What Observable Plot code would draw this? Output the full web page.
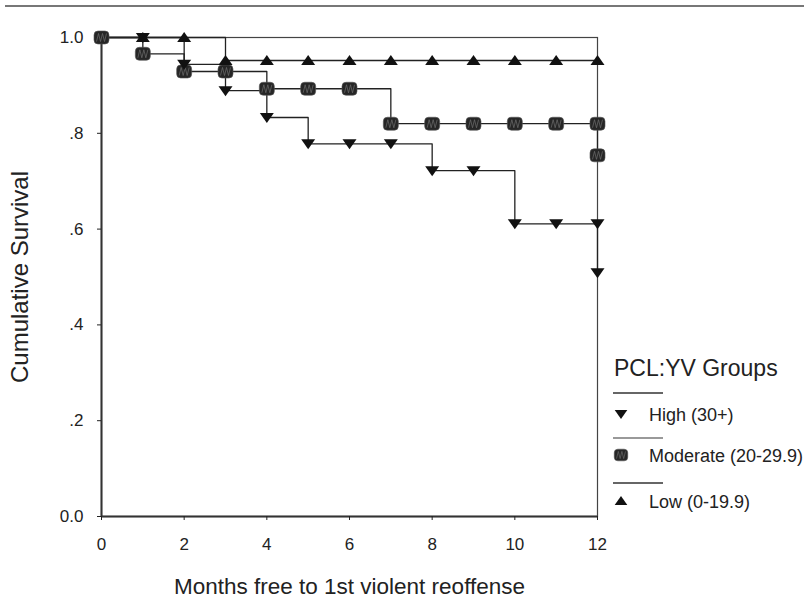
<!DOCTYPE html>
<html><head><meta charset="utf-8">
<script src="https://cdn.jsdelivr.net/npm/d3@7"></script>
<script src="https://cdn.jsdelivr.net/npm/@observablehq/plot@0.6"></script>
<style>body{margin:0;background:#fff;} #chart{width:809px;height:605px;}</style>
</head><body><div id="chart"></div>
<script>
// ---- data ----
const months = [0,1,2,3,4,5,6,7,8,9,10,11,12];
const highSurvival     = [1, 1, .944, .889, .833, .778, .778, .778, .722, .722, .611, .611, .611];
const highFinal = .509;
const moderateSurvival = [1, .966, .929, .929, .893, .893, .893, .820, .820, .820, .820, .820, .820];
const moderateFinal = .754;
const lowSurvival      = [1, 1, 1, .952, .952, .952, .952, .952, .952, .952, .952, .952, .952];
const groups = ["High (30+)", "Moderate (20-29.9)", "Low (0-19.9)"];
const xTicks = [0,2,4,6,8,10,12];
const yTicks = [0,.2,.4,.6,.8,1];
const yTickLabels = ["0.0",".2",".4",".6",".8","1.0"];
const legendTitle = "PCL:YV Groups";
const xLabel = "Months free to 1st violent reoffense";
const yLabel = "Cumulative Survival";

// ---- build tables ----
function series(group, vals, final) {
  const r = months.map((m,i)=>({group, month:m, s:vals[i]}));
  if (final != null) r.push({group, month:months[months.length-1], s:final});
  return r;
}
const highRows = series(groups[0], highSurvival, highFinal);
const modRows  = series(groups[1], moderateSurvival, moderateFinal);
const lowRows  = series(groups[2], lowSurvival, null);
const allRows = [...highRows, ...modRows, ...lowRows];

// ---- custom symbols ----
const downTri = {draw(c){ c.moveTo(-7,-4.5); c.lineTo(7,-4.5); c.lineTo(0,5.5); c.closePath(); }};
const upTri   = {draw(c){ c.moveTo(-7,4.5); c.lineTo(7,4.5); c.lineTo(0,-5.5); c.closePath(); }};
const roundSq = {draw(c){
  const x=-7.5,y=-6.5,w=15,h=13,r=4;
  c.moveTo(x+r,y); c.lineTo(x+w-r,y); c.arcTo(x+w,y,x+w,y+r,r);
  c.lineTo(x+w,y+h-r); c.arcTo(x+w,y+h,x+w-r,y+h,r);
  c.lineTo(x+r,y+h); c.arcTo(x,y+h,x,y+h-r,r);
  c.lineTo(x,y+r); c.arcTo(x,y,x+r,y,r); c.closePath();
}};
const hatch = {draw(c){
  c.moveTo(-5,4); c.lineTo(-3,-4); c.lineTo(-1,4); c.lineTo(1,-4); c.lineTo(3,4); c.lineTo(5,-4);
}};

const FONT = "'Liberation Sans', Arial, Helvetica, sans-serif";

const plot = Plot.plot({
  width: 809, height: 605,
  marginLeft: 101, marginRight: 212, marginTop: 37, marginBottom: 89,
  style: {fontFamily: FONT, fontSize: "17px", color: "#222", background: "#fff"},
  x: {domain: [0, 12]},
  y: {domain: [0, 1]},
  marks: [
    Plot.frame({stroke: "#444", strokeWidth: 1.2}),
    Plot.ruleX([0], {stroke: "#333", strokeWidth: 2}),
    Plot.ruleY([0], {stroke: "#333", strokeWidth: 2}),
    Plot.axisX({ticks: xTicks, tickSize: 4, tickPadding: 17, label: null, tickFormat: d => String(d)}),
    Plot.axisY({ticks: yTicks, tickSize: 4, tickPadding: 14, label: null,
      tickFormat: d => yTickLabels[yTicks.indexOf(d)]}),
    Plot.line(allRows, {x: "month", y: "s", z: "group", curve: "step-after", stroke: "#222", strokeWidth: 1.3}),
    Plot.dot(modRows, {x: "month", y: "s", symbol: roundSq, r: 7, fill: "#262626", stroke: "#555", strokeWidth: 0.6}),
    Plot.dot(modRows, {x: "month", y: "s", symbol: hatch, r: 7, fill: "none", stroke: "#6e6e6e", strokeWidth: 0.7}),
    Plot.dot(highRows.filter(d => d.month > 0), {x: "month", y: "s", symbol: downTri, r: 7, fill: "#111", stroke: "none"}),
    Plot.dot(lowRows.filter(d => d.month > 0), {x: "month", y: "s", symbol: upTri, r: 7, fill: "#111", stroke: "none"}),
    Plot.text([yLabel], {frameAnchor: "left", textAnchor: "middle", dx: -81, rotate: -90, fontSize: 24, fill: "#222"}),
    Plot.text([xLabel], {frameAnchor: "bottom", textAnchor: "middle", dy: 77, fontSize: 22.5, fill: "#222"})
  ]
});
document.getElementById("chart").appendChild(plot);

// ---- legend and top rule ----
const svg = d3.select(plot);
svg.append("line").attr("x1", 5).attr("x2", 804).attr("y1", 6).attr("y2", 6)
  .attr("stroke", "#777").attr("stroke-width", 2);
const lg = svg.append("g").attr("font-family", FONT).attr("fill", "#222").attr("text-anchor", "start");
lg.append("text").attr("x", 614).attr("y", 376).attr("font-size", 23).text(legendTitle);
const sepY = [393, 438, 483];
const sepC = ["#333", "#777", "#333"];
sepY.forEach((y,i) => lg.append("line").attr("x1", 613).attr("x2", 663).attr("y1", y).attr("y2", y)
  .attr("stroke", sepC[i]).attr("stroke-width", 1.3));
const symY = [414, 455, 501];
const symbols = [downTri, roundSq, upTri];
symbols.forEach((s,i) => {
  const p = d3.path(); s.draw(p);
  lg.append("path").attr("d", p.toString()).attr("transform", `translate(621,${symY[i]}) scale(0.9)`)
    .attr("fill", i===1 ? "#262626" : "#111").attr("stroke", i===1 ? "#555" : "none").attr("stroke-width", 0.6);
  if (i===1) { const h = d3.path(); hatch.draw(h);
    lg.append("path").attr("d", h.toString()).attr("transform", `translate(621,${symY[i]}) scale(0.9)`)
      .attr("fill", "none").attr("stroke", "#6e6e6e").attr("stroke-width", 0.7); }
});
const labY = [421, 462, 508];
groups.forEach((g,i) => lg.append("text").attr("x", 649).attr("y", labY[i]).attr("font-size", 18).text(g));
</script>
</body></html>
